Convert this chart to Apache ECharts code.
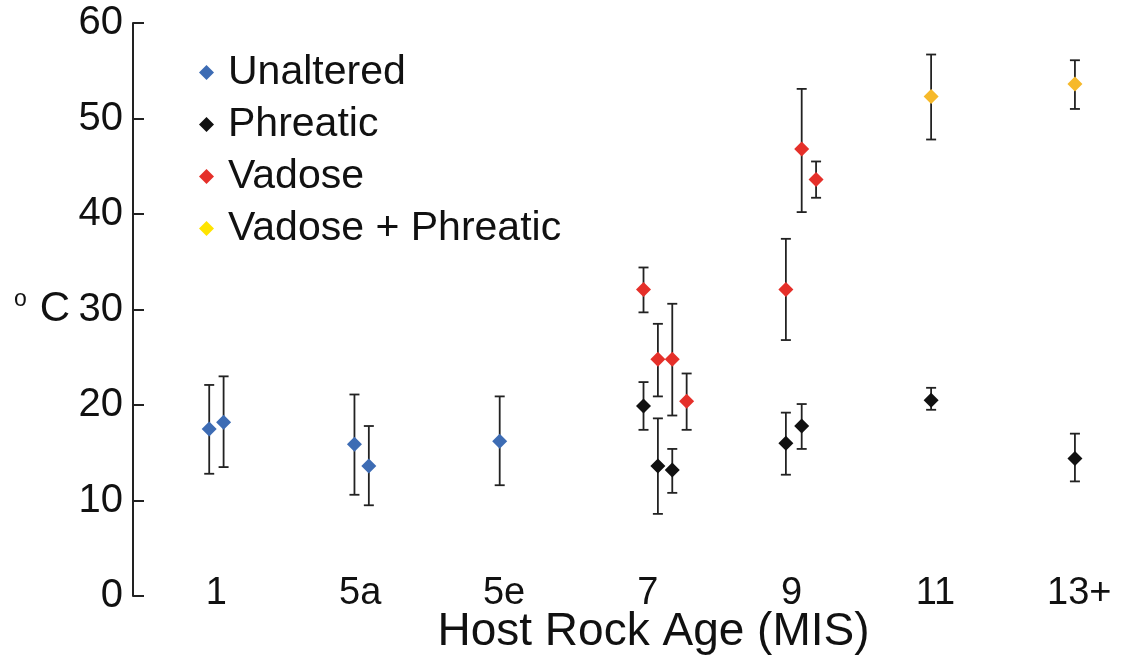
<!DOCTYPE html>
<html>
<head>
<meta charset="utf-8">
<script src="https://cdn.jsdelivr.net/npm/echarts@6/dist/echarts.min.js"></script>
<style>
html,body{margin:0;padding:0;background:#fff;}
#chart{width:1127px;height:663px;}
</style>
</head>
<body>
<div id="chart"></div>
<script>
// Category tick labels (x axis positions 0..6)
const catLabels = ['1', '5a', '5e', '7', '9', '11', '13+'];
const yTicks = [0, 10, 20, 30, 40, 50, 60];

// Unaltered
const unalteredX  = [-0.05, 0.05, 0.96, 1.06, 1.97];
const unalteredY  = [17.5, 18.2, 15.9, 13.6, 16.2];
const unalteredLo = [12.8, 13.5, 10.6, 9.5, 11.6];
const unalteredHi = [22.1, 23.0, 21.1, 17.8, 20.9];

// Phreatic
const phreaticX  = [2.97, 3.07, 3.17, 3.96, 4.07, 4.97, 5.97];
const phreaticY  = [19.9, 13.6, 13.2, 16.0, 17.8, 20.5, 14.4];
const phreaticLo = [17.4, 8.6, 10.8, 12.7, 15.4, 19.5, 12.0];
const phreaticHi = [22.4, 18.6, 15.4, 19.2, 20.1, 21.8, 17.0];

// Vadose
const vadoseX  = [2.97, 3.07, 3.17, 3.27, 3.96, 4.07, 4.17];
const vadoseY  = [32.1, 24.8, 24.8, 20.4, 32.1, 46.8, 43.6];
const vadoseLo = [29.7, 20.9, 18.9, 17.4, 26.8, 40.2, 41.7];
const vadoseHi = [34.4, 28.5, 30.6, 23.3, 37.4, 53.1, 45.5];

// Vadose + Phreatic
const vpX  = [4.97, 5.97];
const vpY  = [52.3, 53.6];
const vpLo = [47.8, 51.0];
const vpHi = [56.7, 56.1];

const groups = [
  {name: 'Unaltered', x: unalteredX, y: unalteredY, lo: unalteredLo, hi: unalteredHi, color: '#3D6CB4', legendColor: '#3D6CB4'},
  {name: 'Phreatic', x: phreaticX, y: phreaticY, lo: phreaticLo, hi: phreaticHi, color: '#111111', legendColor: '#111111'},
  {name: 'Vadose', x: vadoseX, y: vadoseY, lo: vadoseLo, hi: vadoseHi, color: '#E5302A', legendColor: '#E5302A'},
  {name: 'Vadose + Phreatic', x: vpX, y: vpY, lo: vpLo, hi: vpHi, color: '#F6B92B', legendColor: '#FFE400'}
];

const errData = [];
groups.forEach(g => g.x.forEach((x, i) => errData.push([x, g.lo[i], g.hi[i]])));

const series = [{
  type: 'custom',
  name: 'errorbars',
  z: 1,
  silent: true,
  data: errData,
  encode: {x: 0, y: [1, 2]},
  renderItem: function (params, api) {
    const x = api.value(0);
    const lo = api.coord([x, api.value(1)]);
    const hi = api.coord([x, api.value(2)]);
    const hw = 5;
    const style = {stroke: '#222', lineWidth: 1.8};
    return {
      type: 'group',
      children: [
        {type: 'line', shape: {x1: lo[0], y1: lo[1], x2: hi[0], y2: hi[1]}, style: style},
        {type: 'line', shape: {x1: lo[0] - hw, y1: lo[1], x2: lo[0] + hw, y2: lo[1]}, style: style},
        {type: 'line', shape: {x1: hi[0] - hw, y1: hi[1], x2: hi[0] + hw, y2: hi[1]}, style: style}
      ]
    };
  }
}];
groups.forEach(g => {
  series.push({
    type: 'scatter',
    name: g.name,
    z: 3,
    symbol: 'diamond',
    symbolSize: 15,
    itemStyle: {color: g.color, opacity: 1},
    data: g.x.map((x, i) => [x, g.y[i]])
  });
});

const chart = echarts.init(document.getElementById('chart'));
chart.setOption({
  animation: false,
  backgroundColor: '#ffffff',
  textStyle: {fontFamily: 'Liberation Sans, Arial, sans-serif'},
  legend: {
    orient: 'vertical',
    left: 194,
    top: 47,
    icon: 'diamond',
    itemWidth: 15,
    itemHeight: 15,
    itemGap: 11,
    textStyle: {fontSize: 41, lineHeight: 40, color: '#111', padding: [0, 0, 0, 9]},
    data: groups.map(g => ({name: g.name, itemStyle: {color: g.legendColor}}))
  },
  grid: {left: 133, top: 23, right: 19, bottom: 67, containLabel: false},
  xAxis: {
    type: 'value',
    min: -0.58,
    max: 6.2,
    axisLine: {show: false},
    axisTick: {show: false},
    splitLine: {show: false},
    axisLabel: {
      customValues: catLabels.map((_, i) => i),
      formatter: v => catLabels[Math.round(v)],
      fontSize: 38,
      color: '#111',
      margin: -21
    },
    name: 'Host Rock Age (MIS)',
    nameLocation: 'middle',
    nameGap: 13,
    nameMoveOverlap: false,
    nameTextStyle: {fontSize: 46, color: '#111', padding: [0, 0, 0, 66]}
  },
  yAxis: {
    type: 'value',
    min: yTicks[0],
    max: yTicks[yTicks.length - 1],
    interval: 10,
    axisLine: {show: true, onZero: false, lineStyle: {color: '#222', width: 2}},
    axisTick: {show: true, inside: true, length: 11, lineStyle: {color: '#222', width: 2}},
    splitLine: {show: false},
    axisLabel: {fontSize: 40, color: '#111', margin: 10},
    name: '{sup|o}{c|C}',
    nameLocation: 'middle',
    nameRotate: 0,
    nameGap: 63,
    nameMoveOverlap: false,
    nameTextStyle: {
      rich: {
        sup: {fontSize: 23, verticalAlign: 'top', color: '#111', padding: [0, 13, 0, 0]},
        c: {fontSize: 42, color: '#111'}
      }
    }
  },
  series: series
});
</script>
</body>
</html>
